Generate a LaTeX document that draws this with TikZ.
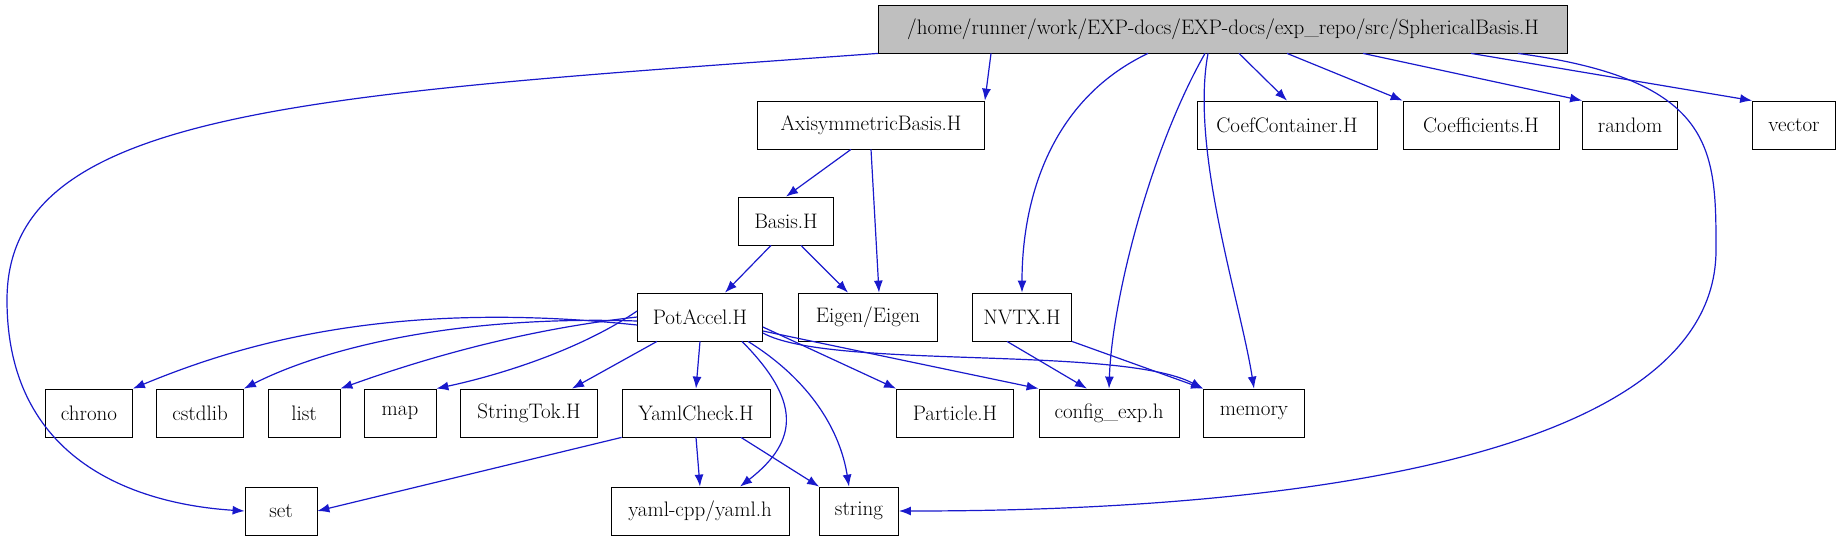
\documentclass[tikz,border=0pt]{standalone}
\usepackage{tikz}
\usetikzlibrary{arrows.meta,positioning}
\definecolor{edgeblue}{rgb}{0.1,0.1,0.8}
\tikzset{
  filebox/.style={draw, thick, inner sep=0pt, minimum height=48pt, font=\fontsize{21}{24}\selectfont},
  dep/.style={-{Latex[length=12pt,width=9pt]}, edgeblue, line width=1.2pt},
}
\begin{document}
\begin{tikzpicture}[x=1pt,y=-1pt]
  \useasboundingbox (0,0) rectangle (1838,539);
  % files
  \node[filebox, fill=gray!50, minimum width=689pt] (root) at (1223,29) {/home/runner/work/EXP-docs/EXP-docs/exp\_repo/src/SphericalBasis.H};
  \node[filebox, minimum width=227pt] (axi) at (871,125) {AxisymmetricBasis.H};
  \node[filebox, minimum width=180pt] (coefc) at (1287,125) {CoefContainer.H};
  \node[filebox, minimum width=156pt] (coefs) at (1481,125) {Coefficients.H};
  \node[filebox, minimum width=95pt] (random) at (1630,125) {random};
  \node[filebox, minimum width=83pt] (vector) at (1794,125) {vector};
  \node[filebox, minimum width=95pt] (basis) at (786,221) {Basis.H};
  \node[filebox, minimum width=125pt] (pot) at (700,317) {PotAccel.H};
  \node[filebox, minimum width=139pt] (eigen) at (868,317) {Eigen/Eigen};
  \node[filebox, minimum width=99pt] (nvtx) at (1022,317) {NVTX.H};
  \node[filebox, minimum width=87pt] (chrono) at (89,413) {chrono};
  \node[filebox, minimum width=87pt] (cstdlib) at (200,413) {cstdlib};
  \node[filebox, minimum width=72pt] (list) at (304,413) {list};
  \node[filebox, minimum width=72pt] (map) at (400,413) {map};
  \node[filebox, minimum width=137pt] (strtok) at (529,413) {StringTok.H};
  \node[filebox, minimum width=148pt] (yamlchk) at (696,413) {YamlCheck.H};
  \node[filebox, minimum width=117pt] (particle) at (955,413) {Particle.H};
  \node[filebox, minimum width=140pt] (config) at (1109,413) {config\_exp.h};
  \node[filebox, minimum width=101pt] (memory) at (1254,413) {memory};
  \node[filebox, minimum width=72pt] (set) at (281,511) {set};
  \node[filebox, minimum width=178pt] (yaml) at (700,511) {yaml-cpp/yaml.h};
  \node[filebox, minimum width=79pt] (string) at (859,511) {string};
  % includes of the root file
  \draw[dep] (root.south west) .. controls (300,95) and (7,110) .. (7,300) .. controls (7,470) and (150,505) .. (set.west);
  \draw[dep] ([xshift=-232pt]root.south) -- (axi.north east);
  \draw[dep] ([xshift=-75pt]root.south) .. controls (1050,100) and (1022,200) .. (nvtx.north);
  \draw[dep] ([xshift=-18pt]root.south) .. controls (1150,150) and (1112,300) .. (config.north);
  \draw[dep] ([xshift=-15pt]root.south) .. controls (1190,150) and (1240,300) .. (memory.north);
  \draw[dep] ([xshift=16pt]root.south) -- (coefc.north);
  \draw[dep] ([xshift=64pt]root.south) -- (coefs.north west);
  \draw[dep] ([xshift=140pt]root.south) -- (random.north west);
  \draw[dep] ([xshift=248pt]root.south) -- (vector.north west);
  \draw[dep] ([xshift=-50pt]root.south east) .. controls (1716,80) and (1716,150) .. (1716,250) .. controls (1716,500) and (1100,511) .. (string.east);
  % second level
  \draw[dep] ([xshift=-20pt]axi.south) -- (basis.north);
  \draw[dep] (axi.south) -- ([xshift=11pt]eigen.north);
  \draw[dep] ([xshift=-15pt]basis.south) -- ([xshift=25pt]pot.north);
  \draw[dep] ([xshift=15pt]basis.south) -- ([xshift=-20pt]eigen.north);
  \draw[dep] ([yshift=-8pt]pot.west) .. controls (400,300) and (250,340) .. (chrono.north east);
  \draw[dep] ([yshift=-4pt]pot.west) .. controls (450,315) and (320,350) .. (cstdlib.north east);
  \draw[dep] (pot.west) .. controls (520,330) and (420,360) .. (list.north east);
  \draw[dep] ([yshift=6pt]pot.west) .. controls (580,350) and (500,375) .. (map.north east);
  \draw[dep] ([xshift=-43pt]pot.south) -- ([xshift=43pt]strtok.north);
  \draw[dep] (pot.south) -- (yamlchk.north);
  \draw[dep] ([xshift=42pt]pot.south) .. controls (800,400) and (800,440) .. ([xshift=40pt]yaml.north);
  \draw[dep] ([xshift=48pt]pot.south) .. controls (810,380) and (840,430) .. ([xshift=-10pt]string.north);
  \draw[dep] ([yshift=-10pt]pot.east) -- (particle.north west);
  \draw[dep] ([yshift=-14pt]pot.east) -- (config.north west);
  \draw[dep] ([yshift=-16pt]pot.east) .. controls (830,370) and (1120,345) .. (memory.north west);
  \draw[dep] ([xshift=-15pt]nvtx.south) -- ([xshift=-22pt]config.north);
  \draw[dep] (nvtx.south east) -- (memory.north west);
  \draw[dep] (yamlchk.south west) -- (set.east);
  \draw[dep] (yamlchk.south) -- (yaml.north);
  \draw[dep] ([xshift=45pt]yamlchk.south) -- (string.north west);
\end{tikzpicture}
\end{document}
